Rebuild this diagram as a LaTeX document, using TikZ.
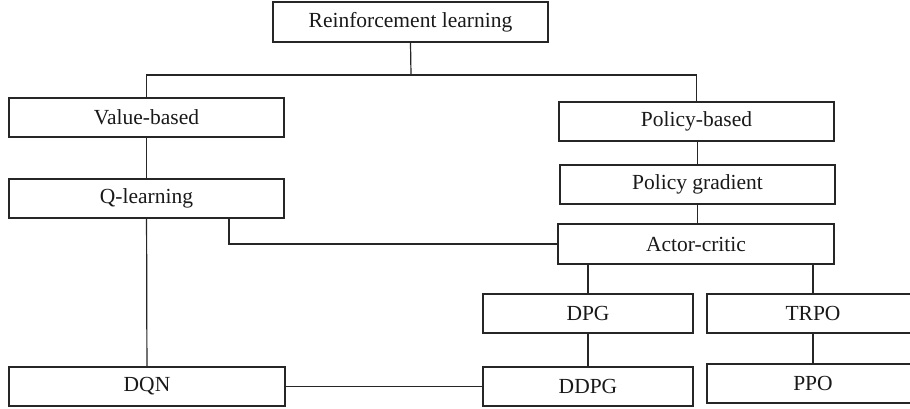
\documentclass[tikz,border=0pt]{standalone}
\usepackage{fontspec}
\setmainfont{Liberation Serif}
\begin{document}
\begin{tikzpicture}[x=1pt,y=-1pt,
  box/.style={draw=black!85, line width=1.3pt, rectangle, inner sep=0pt, text=black!90,
    font=\fontsize{21.5}{25}\selectfont},
  link/.style={draw=black!85, line width=1.2pt}]
\clip (0,0) rectangle (910,409);
\fill[white] (0,0) rectangle (910,409);
% boxes (centres from the reference, sizes in px)
\node[box, minimum width=275pt, minimum height=40pt] (rl)  at (410.5,22)  {Reinforcement learning};
\node[box, minimum width=275pt, minimum height=39pt] (vb)  at (146.5,117.5) {Value-based};
\node[box, minimum width=275pt, minimum height=39pt] (ql)  at (146.5,198.5) {Q-learning};
\node[box, minimum width=275pt, minimum height=39pt] (pb)  at (696.5,121.5) {Policy-based};
\node[box, minimum width=275pt, minimum height=39pt] (pg)  at (697.5,184.5) {Policy gradient};
\node[box, minimum width=276pt, minimum height=40pt] (ac)  at (696,244)   {Actor-critic};
\node[box, minimum width=210pt, minimum height=39pt] (dpg) at (588,313.5) {DPG};
\node[box, minimum width=212pt, minimum height=39pt] (trpo) at (813,313.5) {TRPO};
\node[box, minimum width=276pt, minimum height=39pt] (dqn) at (147,386.5) {DQN};
\node[box, minimum width=210pt, minimum height=39pt] (ddpg) at (588,386.5) {DDPG};
\node[box, minimum width=212pt, minimum height=39pt] (ppo) at (813,383.5) {PPO};
\coordinate (j) at (411,75);
% connectors
\draw[link] (rl.south) -- (j);
\draw[link] (vb.north) -- (vb.north |- j) -- (pb.north |- j) -- (pb.north);
\draw[link] (vb) -- (ql);
\draw[link] (pg.north) -- (pg.north |- pb.south);
\draw[link] (pg.south) -- (pg.south |- ac.north);
\draw[link] ([xshift=82.5pt]ql.south) |- (ac.west);
\draw[link] (ql) -- (dqn);
\draw[link] (dpg.north) -- (dpg.north |- ac.south);
\draw[link] (trpo.north) -- (trpo.north |- ac.south);
\draw[link] (dpg) -- (ddpg);
\draw[link] (trpo.south) -- (ppo.north);
\draw[link] (dqn) -- (ddpg);
\end{tikzpicture}
\end{document}
